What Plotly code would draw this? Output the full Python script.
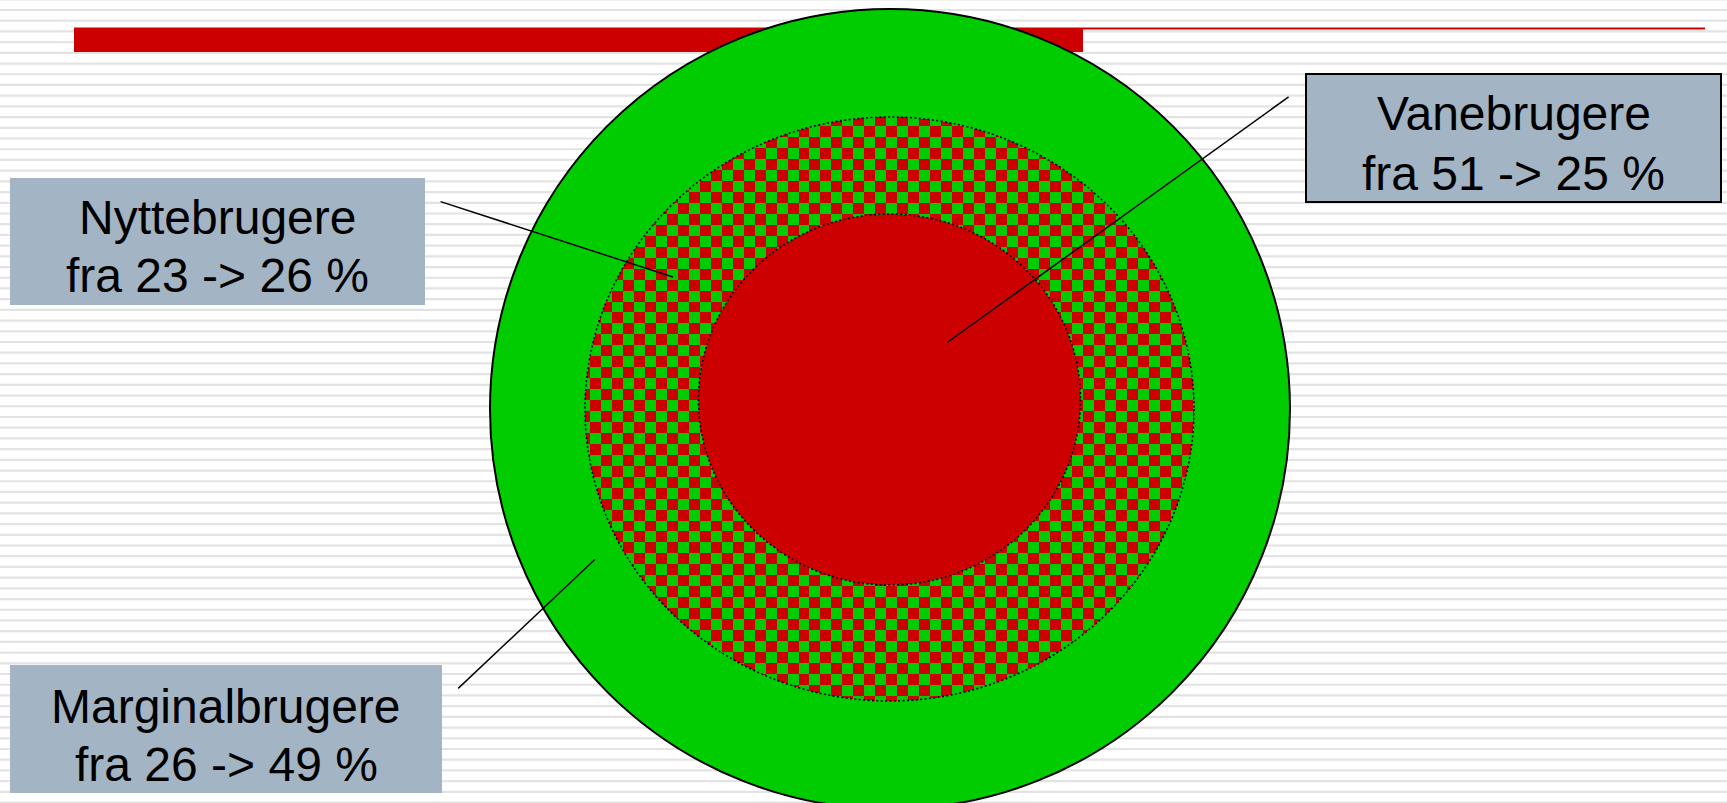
import numpy as np
import plotly.graph_objects as go

# ---- data ----
categories = ["Nyttebrugere", "Vanebrugere", "Marginalbrugere"]
share_from = [23, 51, 26]
share_to = [26, 25, 49]

# ---- style / layout constants ----
W, H = 1727, 803
RED = "#cc0000"
GREEN = "#00cc00"
BOXC = "#a3b4c4"
FONT = "Liberation Sans, Arial, sans-serif"
FS = 48

outer = dict(cx=890, cy=409, rx=400, ry=400)
middle = dict(cx=889.5, cy=409, rx=304.5, ry=292)
inner = dict(cx=889.5, cy=399.5, rx=191, ry=185.5)

boxes = {
    "Nyttebrugere": dict(x0=10, x1=425, y0=178, y1=305, border=False, lines=(217.5, 275.5)),
    "Vanebrugere": dict(x0=1306, x1=1721, y0=74, y1=202, border=True, lines=(113.5, 173)),
    "Marginalbrugere": dict(x0=10, x1=442, y0=665, y1=793, border=False, lines=(706, 764)),
}
leaders = {
    "Nyttebrugere": ((440.6, 201.6), (673, 277)),
    "Vanebrugere": ((1288.6, 96.9), (947.2, 342.5)),
    "Marginalbrugere": ((458.2, 688.4), (594.8, 559.5)),
}

fig = go.Figure()

# ---- checkered ring (heatmap masked to the middle ellipse) ----
x_lo, x_hi = 583, 1197
y_lo, y_hi = 115, 704
xs = np.arange(x_lo, x_hi) + 0.5
ys = np.arange(y_lo, y_hi) + 0.5
X, Y = np.meshgrid(xs, ys)
sq = 10.95
col = np.floor((X - 853.3) / sq)
row = np.floor((Y - 137.3) / sq)
z = ((col + row) % 2).astype(np.float32)
inside = ((X - middle["cx"]) / middle["rx"]) ** 2 + ((Y - middle["cy"]) / middle["ry"]) ** 2 <= 1.0
z[~inside] = np.nan
fig.add_trace(go.Heatmap(
    z=z, x0=x_lo + 0.5, dx=1, y0=y_lo + 0.5, dy=1,
    colorscale=[[0, RED], [1, GREEN]], zmin=0, zmax=1,
    showscale=False, hoverinfo="skip", zsmooth=False,
))

shapes = []
# background stripes
period = 10.71
for k in range(-1, 76):
    y = 10 + period * k
    shapes.append(dict(type="line", xref="x", yref="y", x0=0, x1=W, y0=y, y1=y,
                       line=dict(color="#e3e3e3", width=2.2), layer="below"))
# title bar + thin line
shapes.append(dict(type="rect", x0=74, x1=1083, y0=27.5, y1=52, fillcolor=RED,
                   line=dict(width=0), layer="below"))
shapes.append(dict(type="rect", x0=1083, x1=1705, y0=27.5, y1=29.5, fillcolor=RED,
                   line=dict(width=0), layer="below"))
# outer green circle
shapes.append(dict(type="circle", x0=outer["cx"] - outer["rx"], x1=outer["cx"] + outer["rx"],
                   y0=outer["cy"] - outer["ry"], y1=outer["cy"] + outer["ry"],
                   fillcolor=GREEN, line=dict(color="black", width=2), layer="below"))
# middle outline (dotted)
shapes.append(dict(type="circle", x0=middle["cx"] - middle["rx"], x1=middle["cx"] + middle["rx"],
                   y0=middle["cy"] - middle["ry"], y1=middle["cy"] + middle["ry"],
                   fillcolor="rgba(0,0,0,0)", line=dict(color="black", width=1.6, dash="2px,2.4px"),
                   layer="above"))
# inner red ellipse
shapes.append(dict(type="circle", x0=inner["cx"] - inner["rx"], x1=inner["cx"] + inner["rx"],
                   y0=inner["cy"] - inner["ry"], y1=inner["cy"] + inner["ry"],
                   fillcolor=RED, line=dict(color="black", width=1.6, dash="2px,2.4px"),
                   layer="above"))
# leader lines
for name in categories:
    (xa, ya), (xb, yb) = leaders[name]
    shapes.append(dict(type="line", x0=xa, y0=ya, x1=xb, y1=yb,
                       line=dict(color="black", width=1.5), layer="above"))
# label boxes
annotations = []
for name, a, b in zip(categories, share_from, share_to):
    bx = boxes[name]
    shapes.append(dict(type="rect", x0=bx["x0"], x1=bx["x1"], y0=bx["y0"], y1=bx["y1"],
                       fillcolor=BOXC,
                       line=dict(color="black", width=2 if bx["border"] else 0),
                       layer="above"))
    xc = (bx["x0"] + bx["x1"]) / 2
    for txt, yc in zip([name, f"fra {a} -> {b} %"], bx["lines"]):
        annotations.append(dict(x=xc, y=yc, xref="x", yref="y", text=txt, showarrow=False,
                                xanchor="center", yanchor="middle",
                                font=dict(family=FONT, size=FS, color="black")))

fig.update_layout(
    width=W, height=H, margin=dict(l=0, r=0, t=0, b=0),
    paper_bgcolor="white", plot_bgcolor="white",
    xaxis=dict(range=[0, W], visible=False, fixedrange=True),
    yaxis=dict(range=[H, 0], visible=False, fixedrange=True),
    shapes=shapes, annotations=annotations, showlegend=False,
)

fig.write_html(
    "out.html",
    config={"displayModeBar": False},
    post_script="document.body.style.margin='0';document.body.style.overflow='hidden';",
)
